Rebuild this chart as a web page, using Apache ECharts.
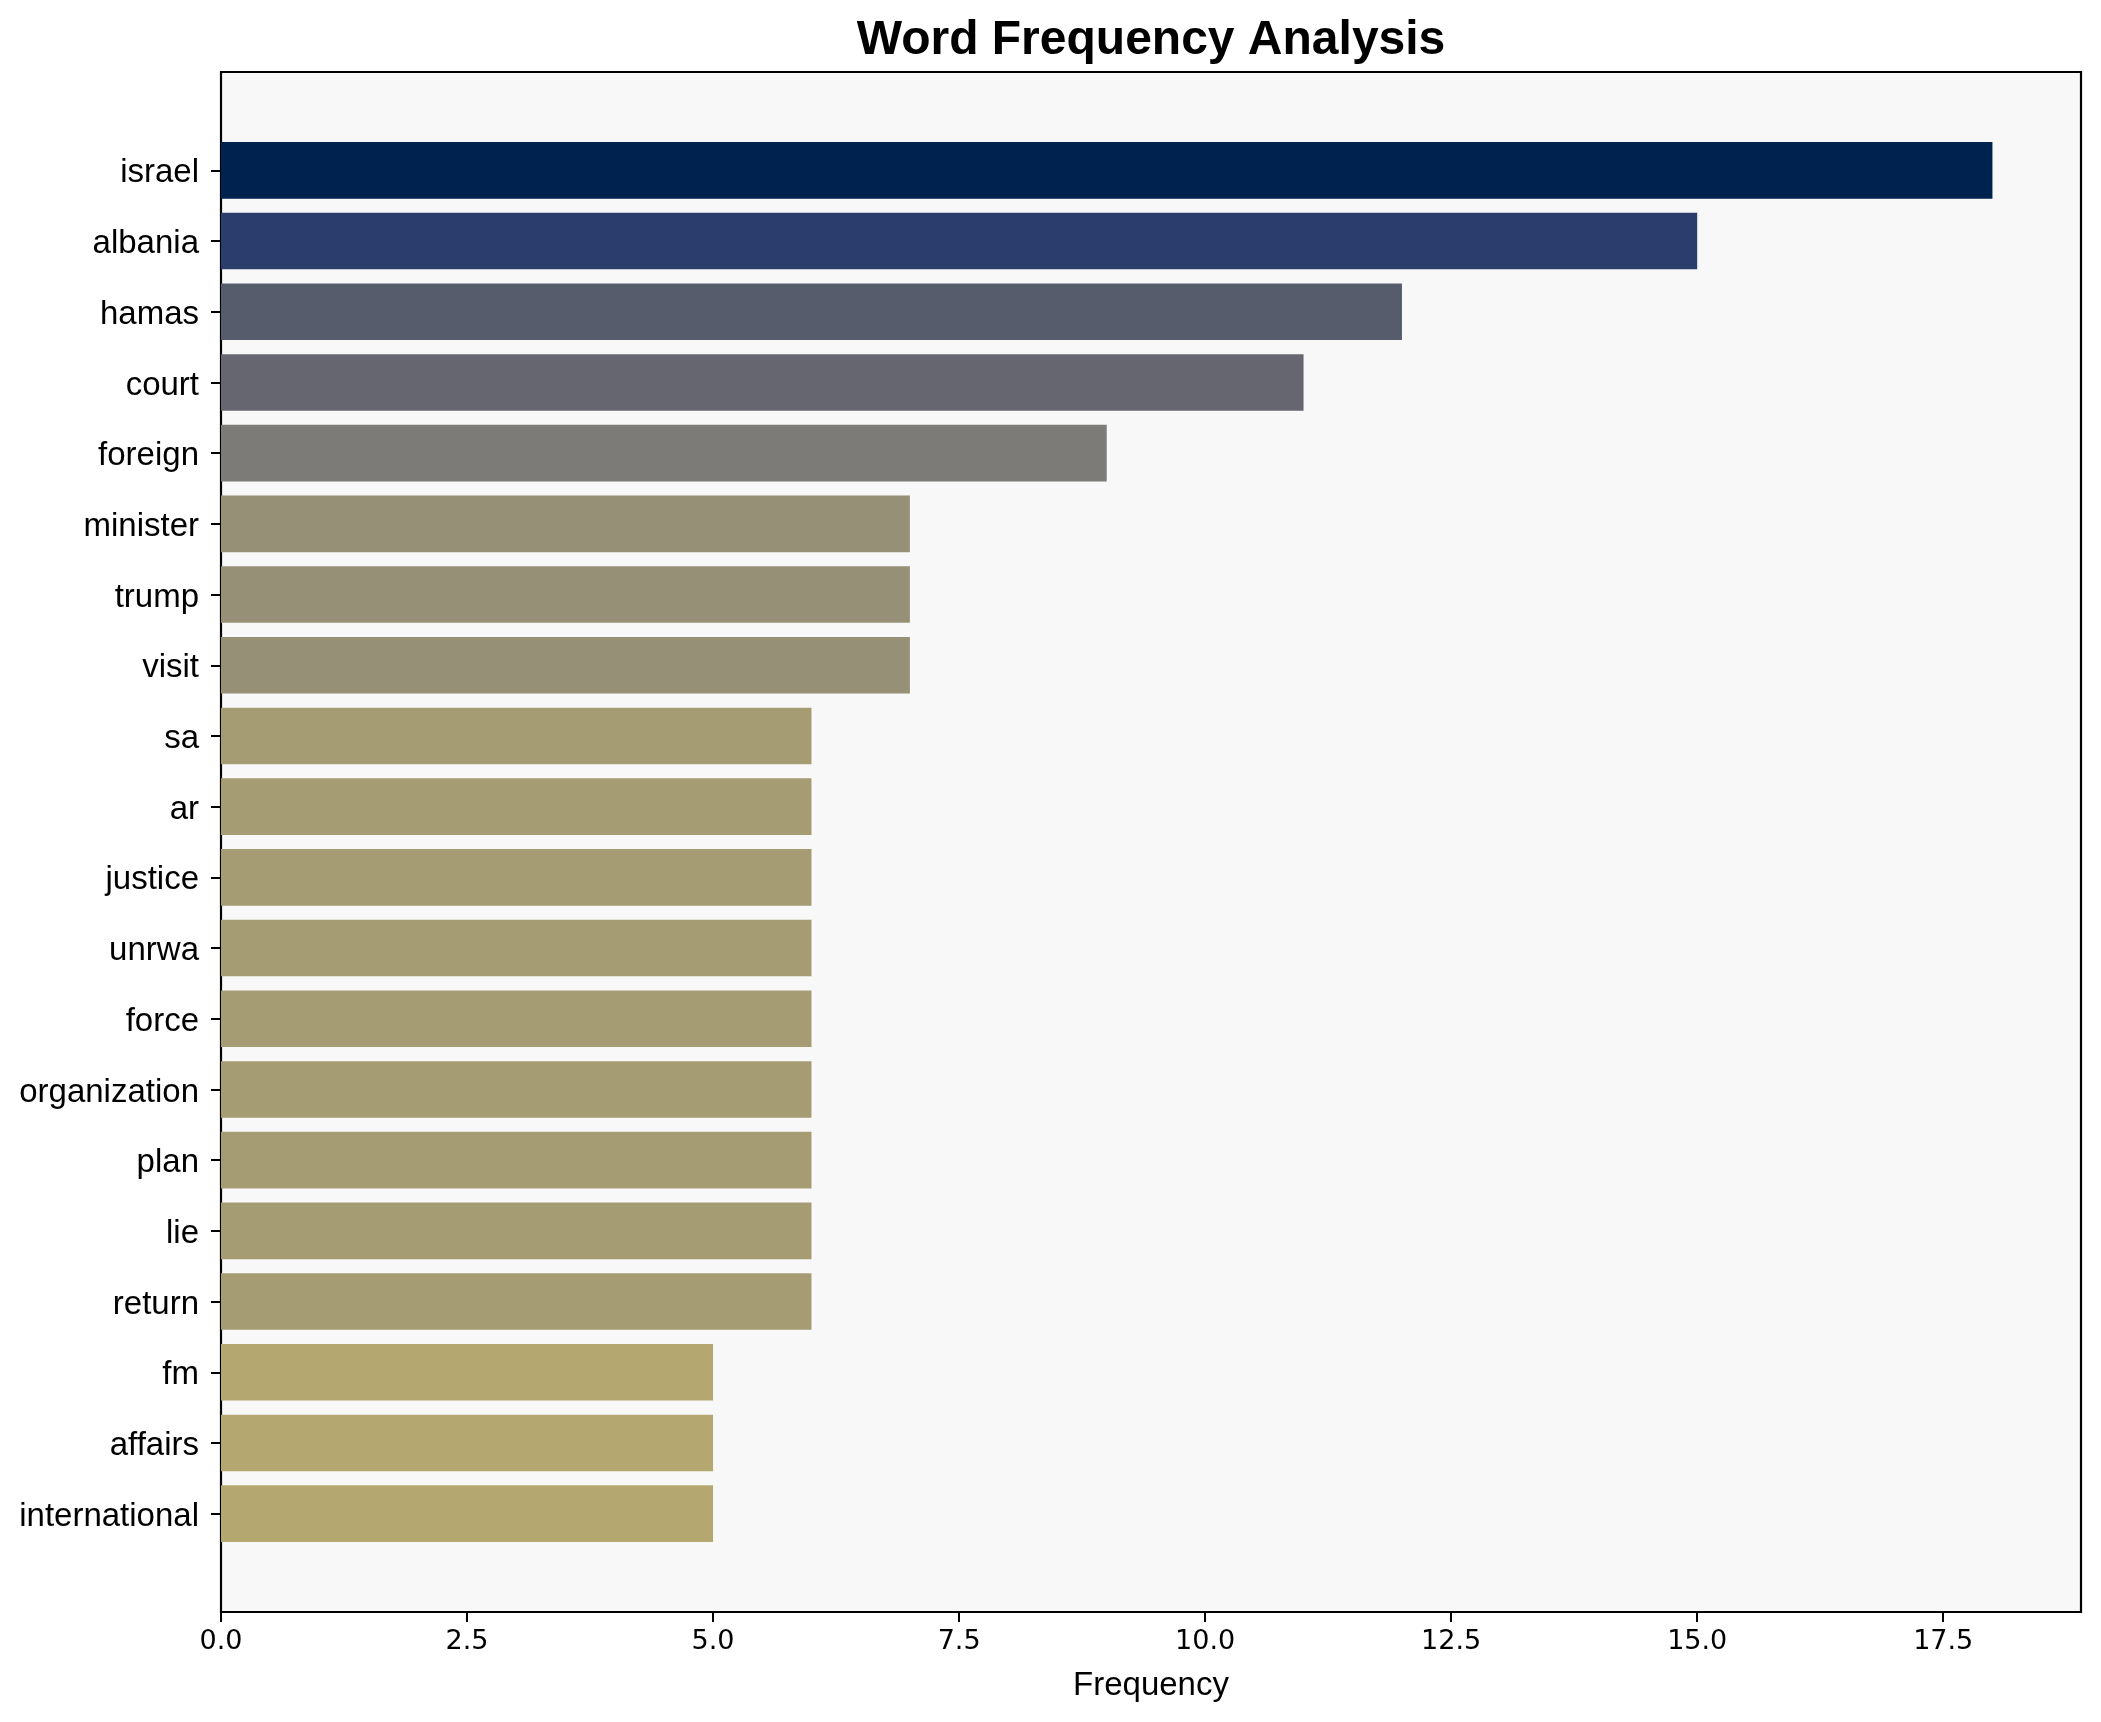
<!DOCTYPE html>
<html>
<head>
<meta charset="utf-8">
<script src="https://cdn.jsdelivr.net/npm/echarts@6/dist/echarts.min.js"></script>
<style>
html,body{margin:0;padding:0;background:#fff;}
#chart{width:2101px;height:1722px;}
</style>
</head>
<body>
<div id="chart"></div>
<script>
const words = ["israel","albania","hamas","court","foreign","minister","trump","visit","sa","ar","justice","unrwa","force","organization","plan","lie","return","fm","affairs","international"];
const frequencies = [18,15,12,11,9,7,7,7,6,6,6,6,6,6,6,6,6,5,5,5];
const xTicks = [0,2.5,5,7.5,10,12.5,15,17.5];
const barColors = ["#00224e","#2b3d6c","#575c6d","#656670","#7c7b78","#969077","#969077","#969077","#a59c73","#a59c73","#a59c73","#a59c73","#a59c73","#a59c73","#a59c73","#a59c73","#a59c73","#b4a76f","#b4a76f","#b4a76f"];
const xMax = 18.9;

const chart = echarts.init(document.getElementById('chart'), null, {renderer:'canvas', width:2101, height:1722});
const option = {
  animation:false,
  backgroundColor:'#ffffff',
  graphic:[{
    type:'text', x:1151, y:17,
    style:{text:'Word Frequency Analysis', font:'bold 48px "Liberation Sans", Arial, sans-serif', fill:'#000', textAlign:'center', textVerticalAlign:'top'}
  }],
  grid:[
    {left:221, right:20, top:72, bottom:110, show:true, backgroundColor:'#f8f8f8', borderColor:'#000', borderWidth:2.2, containLabel:false},
    {left:221, right:20, top:135, bottom:173, containLabel:false}
  ],
  xAxis:[
    {type:'value', gridIndex:0, min:0, max:xMax,
     axisLine:{show:true, lineStyle:{color:'#000', width:2.2}},
     axisTick:{show:true, inside:false, length:10, lineStyle:{color:'#000', width:2}, customValues:xTicks},
     axisLabel:{show:true, margin:16, color:'#000', fontFamily:'"DejaVu Sans", sans-serif', fontSize:27, customValues:xTicks, formatter:v=>v.toFixed(1)},
     splitLine:{show:false},
     name:'Frequency', nameLocation:'middle', nameGap:57,
     nameTextStyle:{color:'#000', fontFamily:'"Liberation Sans", Arial, sans-serif', fontSize:33, verticalAlign:'top'}
    },
    {type:'value', gridIndex:1, min:0, max:xMax, show:false, splitLine:{show:false}}
  ],
  yAxis:[
    {type:'value', gridIndex:0, show:false, splitLine:{show:false}},
    {type:'category', gridIndex:1, data:words, inverse:true,
     axisLine:{show:false},
     axisTick:{show:true, alignWithLabel:true, inside:false, length:10, lineStyle:{color:'#000', width:2}},
     axisLabel:{margin:22, formatter:v=>'{a|'+v+'}',
       rich:{a:{color:'#000', fontFamily:'"Liberation Sans", Arial, sans-serif', fontSize:33, lineHeight:33, padding:[6,0,0,0]}}},
     splitLine:{show:false}
    }
  ],
  series:[{
    type:'bar', xAxisIndex:1, yAxisIndex:1, barWidth:'80%',
    data: frequencies.map((v,i)=>({value:v, itemStyle:{color:barColors[i]}}))
  }]
};
chart.setOption(option);
</script>
</body>
</html>
